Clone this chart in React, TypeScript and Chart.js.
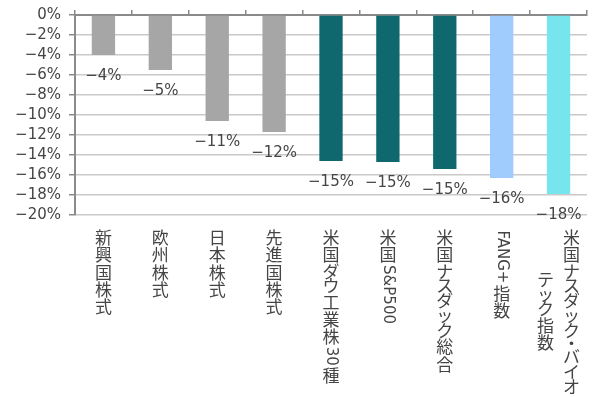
import React, { useEffect, useRef } from "react";
import { Chart, registerables } from "chart.js";

Chart.register(...registerables);

const categories = [
  "新興国株式",
  "欧州株式",
  "日本株式",
  "先進国株式",
  "米国ダウ工業株30種",
  "米国S&P500",
  "米国ナスダック総合",
  "FANG+指数",
  "米国ナスダック・バイオ\nテック指数",
];
const values = [-4.0, -5.5, -10.6, -11.7, -14.6, -14.7, -15.4, -16.3, -17.9];
const barColors = [
  "#a6a6a6", "#a6a6a6", "#a6a6a6", "#a6a6a6",
  "#0f686e", "#0f686e", "#0f686e",
  "#a0ccfd", "#76e5ed",
];
const yMin = -20;
const yMax = 0;
const yStep = 2;

const CJK_FONT = '"Noto Sans CJK JP", sans-serif';
const NUM_FONT = '"DejaVu Sans", "Noto Sans CJK JP", sans-serif';
const TEXT = "#454545";

const fmt = (v: number) => (v === 0 ? "0%" : "\u2212" + Math.abs(v) + "%");

type Run = { t: string; kind: "latin" | "kanji" | "kana" | "dot" };

function splitRuns(s: string): Run[] {
  const out: Run[] = [];
  for (const ch of s) {
    let kind: Run["kind"] = "kanji";
    if (/[A-Za-z0-9&+]/.test(ch)) kind = "latin";
    else if (ch === "・") kind = "dot";
    else if (/[\u30A0-\u30FF]/.test(ch)) kind = "kana";
    const last = out[out.length - 1];
    if (last && last.kind === "latin" && kind === "latin") last.t += ch;
    else out.push({ t: ch, kind });
  }
  return out;
}

const PITCH = { kanji: 17.3, kana: 14.9, dot: 11 } as const;

const verticalLabels = {
  id: "verticalLabels",
  afterDraw(chart: any) {
    const ctx = chart.ctx;
    const xs = chart.scales.x;
    const top = chart.chartArea.bottom + 14;
    const latinFont = `15px ${NUM_FONT}`;
    const cjkFont = `17px ${CJK_FONT}`;
    const runLen = (r: Run) => {
      if (r.kind === "latin") {
        ctx.font = latinFont;
        return ctx.measureText(r.t).width + 3;
      }
      return PITCH[r.kind];
    };
    ctx.save();
    ctx.fillStyle = TEXT;
    categories.forEach((label, i) => {
      const cx = xs.getPixelForValue(i);
      const cols = label.split("\n");
      const heights = cols.map((c) => splitRuns(c).reduce((h, r) => h + runLen(r), 0));
      const H = Math.max(...heights);
      const colGap = 26;
      cols.forEach((col, ci) => {
        const x = cx + ((cols.length - 1) / 2 - ci) * colGap;
        let y = top + (H - heights[ci]) / 2;
        for (const r of splitRuns(col)) {
          const len = runLen(r);
          if (r.kind === "latin") {
            ctx.font = latinFont;
            ctx.save();
            ctx.translate(x, y + 1.5);
            ctx.rotate(Math.PI / 2);
            ctx.textAlign = "left";
            ctx.textBaseline = "middle";
            ctx.fillText(r.t, 0, 0);
            ctx.restore();
          } else {
            ctx.font = cjkFont;
            ctx.textAlign = "center";
            ctx.textBaseline = "middle";
            ctx.fillText(r.t, x, y + len / 2);
          }
          y += len;
        }
      });
    });
    ctx.restore();
  },
};

const dataLabels = {
  id: "dataLabels",
  afterDatasetsDraw(chart: any) {
    const ctx = chart.ctx;
    const meta = chart.getDatasetMeta(0);
    ctx.save();
    ctx.fillStyle = TEXT;
    ctx.font = `15px ${NUM_FONT}`;
    ctx.textAlign = "center";
    ctx.textBaseline = "middle";
    meta.data.forEach((bar: any, i: number) => {
      ctx.fillText(fmt(Math.round(values[i])), bar.x, bar.y + 21);
    });
    ctx.restore();
  },
};

export default function App() {
  const ref = useRef<HTMLCanvasElement>(null);
  useEffect(() => {
    if (!ref.current) return;
    const chart = new Chart(ref.current, {
      type: "bar",
      data: {
        labels: categories,
        datasets: [
          {
            data: values,
            backgroundColor: barColors,
            barPercentage: 0.41,
            categoryPercentage: 1,
            xAxisID: "x",
          },
        ],
      },
      options: {
        responsive: false,
        animation: false,
        devicePixelRatio: 1,
        layout: { padding: { left: 0, right: 23, top: 2, bottom: 0 } },
        plugins: { legend: { display: false }, tooltip: { enabled: false } },
        scales: {
          x: {
            type: "category",
            position: "bottom",
            grid: { display: false },
            border: { display: false },
            ticks: { display: false },
            afterFit: (s: any) => {
              s.height = 182;
            },
          },
          x2: {
            type: "category",
            position: "top",
            labels: categories,
            offset: true,
            grid: {
              offset: true,
              drawOnChartArea: false,
              drawTicks: true,
              tickLength: 5,
              color: "#8a8a8a",
              lineWidth: 1.5,
            },
            border: { display: true, color: "#8a8a8a", width: 2 },
            ticks: { display: false },
            afterFit: (s: any) => {
              s.height = 13;
            },
          },
          y: {
            min: yMin,
            max: yMax,
            ticks: {
              stepSize: yStep,
              autoSkip: false,
              color: TEXT,
              font: { family: NUM_FONT, size: 15 },
              padding: 8,
              callback: (v: any) => fmt(Number(v)),
            },
            grid: {
              color: "#c9c9c9",
              lineWidth: 1.5,
              tickColor: "#8a8a8a",
              tickLength: 6,
            },
            border: { display: true, color: "#8a8a8a", width: 2 },
            afterFit: (s: any) => {
              s.width = 75;
              s.paddingTop = 0;
              s.paddingBottom = 0;
            },
          },
        },
      },
      plugins: [dataLabels, verticalLabels],
    } as any);
    return () => chart.destroy();
  }, []);
  return (
    <div style={{ position: "fixed", left: 0, top: 0, width: 610, height: 397, background: "#fff" }}>
      <canvas ref={ref} width={610} height={397} />
    </div>
  );
}
